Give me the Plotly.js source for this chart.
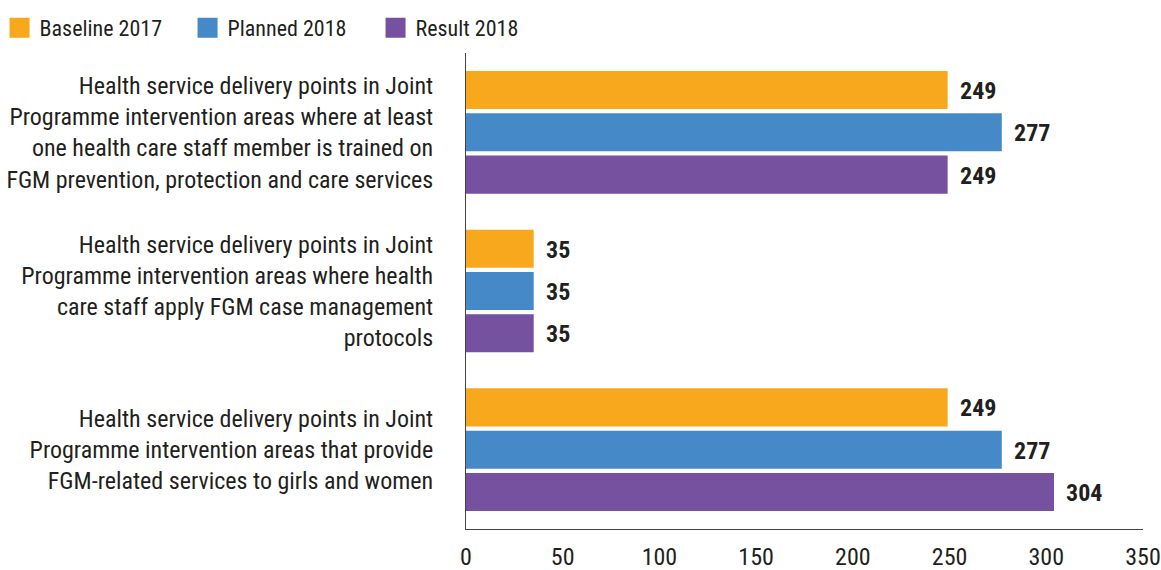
<!DOCTYPE html>
<html>
<head>
<meta charset="utf-8">
<script src="https://cdn.plot.ly/plotly-3.0.1.min.js"></script>
<style>html,body{margin:0;padding:0;background:#fff;}#chart{width:1161px;height:570px;}</style>
</head>
<body>
<div id="chart"></div>
<script>
const categories = [
  "Health service delivery points in Joint<br>Programme intervention areas where at least<br>one health care staff member is trained on<br>FGM prevention, protection and care services",
  "Health service delivery points in Joint<br>Programme intervention areas where health<br>care staff apply FGM case management<br>protocols",
  "Health service delivery points in Joint<br>Programme intervention areas that provide<br>FGM-related services to girls and women"
];
const seriesNames = ["Baseline 2017", "Planned 2018", "Result 2018"];
const baseline2017 = [249, 35, 249];
const planned2018 = [277, 35, 277];
const result2018 = [249, 35, 304];
const colors = ["#F8A81C", "#4689C8", "#7651A0"];
const xTicks = [0, 50, 100, 150, 200, 250, 300, 350];

const FONT = "'Roboto Condensed', 'Liberation Sans Narrow', 'DejaVu Sans Condensed', Roboto, sans-serif";
const values = [baseline2017, planned2018, result2018];

const traces = values.map((v, i) => ({
  type: 'bar',
  orientation: 'h',
  name: seriesNames[i],
  x: v,
  y: categories,
  marker: {color: colors[i]},
  showlegend: false,
  hoverinfo: 'x+name'
}));
// legend entries with larger square swatches
seriesNames.forEach((n, i) => {
  traces.push({
    type: 'scatter', mode: 'markers', name: n, x: [null], y: [null],
    marker: {symbol: 'square', size: 16, color: colors[i], line: {color: colors[i], width: 4}},
    showlegend: true, hoverinfo: 'skip'
  });
});

const annotations = [];
values.forEach((v, i) => {
  v.forEach((val, j) => {
    annotations.push({
      x: val, y: categories[j], xref: 'x', yref: 'y',
      text: String(val), showarrow: false, xanchor: 'left',
      xshift: 10, yshift: (1 - i) * 42.3 - 1,
      font: {family: FONT, size: 24, color: '#231F20', weight: 'bold'}
    });
  });
});

const layout = {
  width: 1161, height: 570,
  margin: {l: 466, r: 18, t: 53, b: 41, autoexpand: false},
  paper_bgcolor: '#fff', plot_bgcolor: '#fff',
  font: {family: FONT, size: 24, color: '#231F20'},
  barmode: 'group',
  bargap: 0.2,
  bargroupgap: 0.1,
  showlegend: true,
  legend: {orientation: 'h', x: -0.689, xanchor: 'left',
           y: 1.0525, yanchor: 'middle', entrywidth: 143, entrywidthmode: 'pixels',
           font: {family: FONT, size: 22, color: '#231F20'}, traceorder: 'normal', itemwidth: 30},
  xaxis: {range: [0, 350], tickvals: xTicks, showgrid: false, zeroline: false, automargin: false,
          showline: true, linecolor: '#444', linewidth: 1, ticks: '',
          ticklabelstandoff: 6, tickfont: {family: FONT, size: 24, color: '#231F20'}, fixedrange: true},
  yaxis: {autorange: 'reversed', showgrid: false, zeroline: false, showline: true, automargin: false,
          linecolor: '#444', linewidth: 1, ticks: '', ticklabelstandoff: 27,
          tickfont: {family: FONT, size: 24, color: '#231F20'}, fixedrange: true},
  annotations: annotations
};

Plotly.newPlot('chart', traces, layout, {displayModeBar: false, staticPlot: true});
</script>
</body>
</html>
